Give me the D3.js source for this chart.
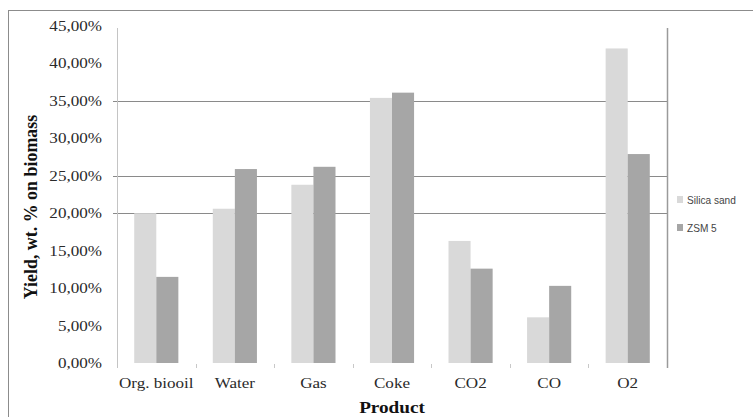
<!DOCTYPE html>
<html><head><meta charset="utf-8">
<script src="https://cdn.jsdelivr.net/npm/d3@7"></script>
<style>body{margin:0;background:#fff}svg{display:block}</style>
</head><body><svg id="c" width="753" height="417"></svg>
<script>
const categories = ["Org. biooil","Water","Gas","Coke","CO2","CO","O2"];
const seriesNames = ["Silica sand","ZSM 5"];
const silicaSand = [20.0, 20.6, 23.8, 35.4, 16.3, 6.1, 42.0];
const zsm5 = [11.5, 25.9, 26.2, 36.1, 12.6, 10.3, 27.9];
const yTicks = [0,5,10,15,20,25,30,35,40,45];
const gridValues = [20,25,35];
const colors = ["#d9d9d9","#a6a6a6"];

(function(){
const svg = d3.select("#c");
const pLeft = 117, pRight = 667, pTop = 26, pBottom = 363;
const serif = "'Liberation Serif','Times New Roman',serif";

svg.append("rect").attr("x",8.5).attr("y",10.5).attr("width",800).attr("height",440)
  .attr("fill","none").attr("stroke","#8c8c8c").attr("stroke-width",1);

const x = d3.scaleBand().domain(categories).range([pLeft,pRight]).padding(0);
const y = d3.scaleLinear().domain([0,45]).range([pBottom,pTop]);
const inner = d3.scaleBand().domain(seriesNames)
  .range([0, x.bandwidth()]).paddingOuter(0.78).paddingInner(0);

// gridlines
svg.append("g").selectAll("line").data(gridValues).join("line")
  .attr("x1",pLeft-4).attr("x2",pRight)
  .attr("y1",d=>Math.round(y(d))+0.5).attr("y2",d=>Math.round(y(d))+0.5)
  .attr("stroke","#8a8a8a").attr("stroke-width",1);

// bars
const data = categories.map((c,i)=>({c, vals:[silicaSand[i], zsm5[i]]}));
const g = svg.append("g");
data.forEach(d=>{
  d.vals.forEach((v,j)=>{
    g.append("rect")
      .attr("x", x(d.c)+inner(seriesNames[j]))
      .attr("width", inner.bandwidth())
      .attr("y", y(v)).attr("height", pBottom - y(v))
      .attr("fill", colors[j]);
  });
});

// left axis line
svg.append("line").attr("x1",pLeft+0.5).attr("x2",pLeft+0.5).attr("y1",pTop+2).attr("y2",pBottom+5)
  .attr("stroke","#c4c4c4");
// right vertical line
svg.append("line").attr("x1",pRight+0.5).attr("x2",pRight+0.5).attr("y1",pTop+2).attr("y2",pBottom+5)
  .attr("stroke","#9a9a9a").attr("stroke-width",1.5);

// category ticks
const bounds = categories.slice(1).map(c=>x(c));
svg.append("g").selectAll("line").data(bounds).join("line")
  .attr("x1",d=>Math.round(d)+0.5).attr("x2",d=>Math.round(d)+0.5)
  .attr("y1",pBottom+1).attr("y2",pBottom+5).attr("stroke","#c8c8c8");

// y tick labels
svg.append("g").selectAll("text").data(yTicks).join("text")
  .attr("transform",d=>`translate(102,${y(d)+5}) scale(1.22,1)`)
  .attr("text-anchor","end").attr("font-family",serif).attr("font-size",14)
  .attr("fill","#2a2a2a")
  .text(d=>d3.format(".2f")(d).replace(".",",")+"%");

// category labels
svg.append("g").selectAll("text").data(categories).join("text")
  .attr("transform",d=>`translate(${x(d)+x.bandwidth()/2},${388}) scale(1.22,1)`)
  .attr("text-anchor","middle").attr("font-family",serif).attr("font-size",14)
  .attr("fill","#2a2a2a").text(d=>d);

// axis titles
svg.append("text").attr("transform",`translate(392,413) scale(1.2,1)`)
  .attr("text-anchor","middle").attr("font-family",serif).attr("font-size",16)
  .attr("font-weight","bold").attr("fill","#111").text("Product");
svg.append("text").attr("transform",`translate(37,207) rotate(-90) scale(1.12,1.15)`)
  .attr("text-anchor","middle").attr("font-family",serif).attr("font-size",16)
  .attr("font-weight","bold").attr("fill","#111").text("Yield, wt. % on biomass");

// legend
const lg = svg.append("g");
seriesNames.forEach((s,i)=>{
  const ly = 200 + i*28;
  lg.append("rect").attr("x",677).attr("y",ly-4).attr("width",6).attr("height",7).attr("fill",colors[i]);
  lg.append("text").attr("transform",`translate(687,${ly+4}) scale(0.92,1)`)
    .attr("font-family","'Liberation Sans Narrow','Liberation Sans',sans-serif").attr("font-size",11)
    .attr("fill","#444").text(s);
});
})();
</script></body></html>
